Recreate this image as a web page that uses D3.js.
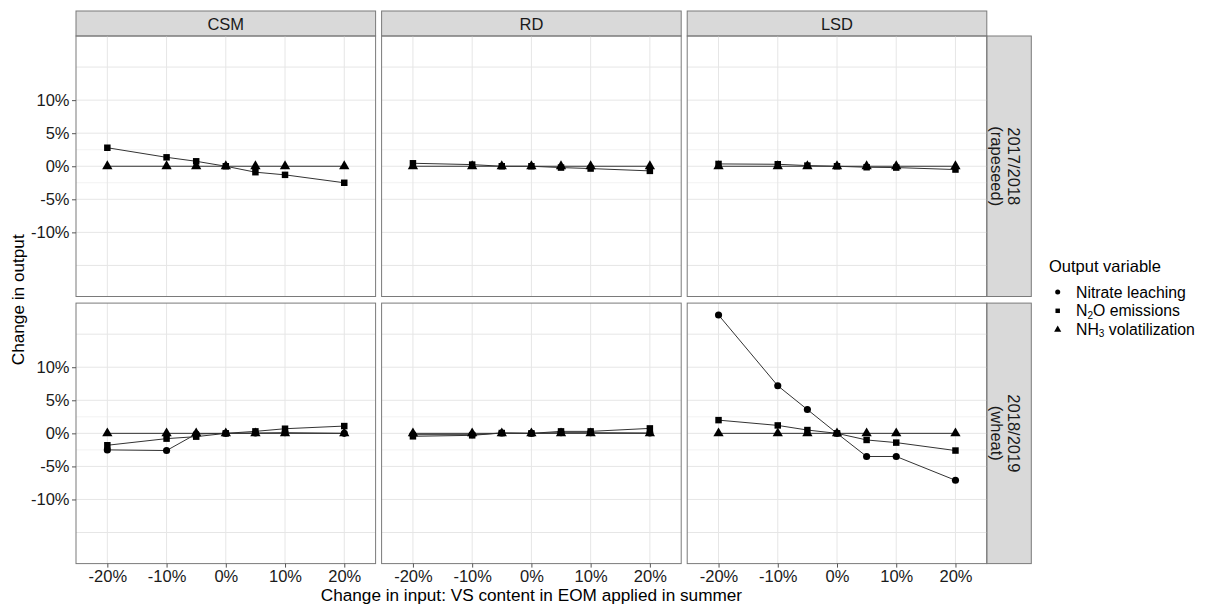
<!DOCTYPE html>
<html><head><meta charset="utf-8">
<script src="https://cdn.jsdelivr.net/npm/d3@7"></script>
<style>body{margin:0;background:#fff;} text{font-family:"Liberation Sans",Arial,sans-serif;}</style>
</head><body>
<svg id="chart" width="1215" height="607"></svg>
<script>
// ---- data ----
const colFacets = ["CSM", "RD", "LSD"];
const rowFacets = [["2017/2018", "(rapeseed)"], ["2018/2019", "(wheat)"]];
const xValues = [-20, -10, -5, 0, 5, 10, 20];          // change in input (%)
const xTicks = [-20, -10, 0, 10, 20];
const yTicks = [-10, -5, 0, 5, 10];
const yMajorGrid = [-15, -10, -5, 0, 5, 10, 15];
const yMinorGrid = [-2.5, 2.5];
const seriesNames = ["Nitrate leaching", "N2O emissions", "NH3 volatilization"];

// 2017/2018 (rapeseed) - change in output (%)
const n2o_1718_CSM = [2.8, 1.35, 0.75, 0, -0.9, -1.3, -2.5];
const nh3_1718_CSM = [0, 0, 0, 0, 0, 0, 0];
const n2o_1718_RD = [0.45, 0.25, 0, 0, -0.2, -0.35, -0.7];
const nh3_1718_RD = [0, 0, 0, 0, 0, 0, 0];
const n2o_1718_LSD = [0.35, 0.3, 0.1, 0, -0.15, -0.2, -0.5];
const nh3_1718_LSD = [0, 0, 0, 0, 0, 0, 0];
// 2018/2019 (wheat)
const nitrate_1819_CSM = [-2.5, -2.6, -0.1, 0, 0.05, 0.1, 0];
const n2o_1819_CSM = [-1.8, -0.8, -0.5, 0, 0.3, 0.7, 1.1];
const nh3_1819_CSM = [0, 0, 0, 0, 0, 0, 0];
const nitrate_1819_RD = [-0.2, -0.2, 0.05, 0, 0.1, 0.1, 0.05];
const n2o_1819_RD = [-0.45, -0.3, 0.05, 0, 0.3, 0.3, 0.75];
const nh3_1819_RD = [0, 0, 0, 0, 0, 0, 0];
const nitrate_1819_LSD = [17.9, 7.2, 3.6, 0, -3.5, -3.5, -7.1];
const n2o_1819_LSD = [2.0, 1.2, 0.5, 0, -1.0, -1.4, -2.6];
const nh3_1819_LSD = [0, 0, 0, 0, 0, 0, 0];

// panel table built from the arrays: [row][col] -> series list (null = not present)
const panelData = [
  [[null, n2o_1718_CSM, nh3_1718_CSM], [null, n2o_1718_RD, nh3_1718_RD], [null, n2o_1718_LSD, nh3_1718_LSD]],
  [[nitrate_1819_CSM, n2o_1819_CSM, nh3_1819_CSM], [nitrate_1819_RD, n2o_1819_RD, nh3_1819_RD], [nitrate_1819_LSD, n2o_1819_LSD, nh3_1819_LSD]]
];

// ---- layout ----
const svg = d3.select("#chart");
const panelW = 299.6, panelH = 260.5, gapX = 6, gapY = 6.6;
const left0 = 76, top0 = 36, stripH = 25, stripW = 44.5;
const colX = i => left0 + i * (panelW + gapX);
const rowY = j => top0 + j * (panelH + gapY);

const x = d3.scaleLinear().domain([-25.29, 25.29]).range([0, panelW]);
const y = d3.scaleLinear().domain([-19.7, 19.7]).range([panelH, 0]);

const borderCol = "#7a7a7a", gridCol = "#e6e6e6", lineCol = "#333";
const shapes = [d3.symbolCircle, d3.symbolSquare, d3.symbolTriangle];
const sizes = [40, 42, 46];
const pct = d => d + "%";
const FONT = "Liberation Sans, Arial, sans-serif";

colFacets.forEach((cname, ci) => {
  const gx = colX(ci);
  svg.append("rect").attr("x", gx).attr("y", top0 - stripH).attr("width", panelW).attr("height", stripH)
    .attr("fill", "#d9d9d9").attr("stroke", borderCol).attr("stroke-width", 1);
  svg.append("text").attr("x", gx + panelW / 2).attr("y", top0 - stripH / 2 + 6)
    .attr("text-anchor", "middle").attr("font-size", 16.5).attr("fill", "#1a1a1a").text(cname);
});

rowFacets.forEach((rlab, ri) => {
  const gy = rowY(ri);
  const sx = colX(2) + panelW;
  svg.append("rect").attr("x", sx).attr("y", gy).attr("width", stripW).attr("height", panelH)
    .attr("fill", "#d9d9d9").attr("stroke", borderCol).attr("stroke-width", 1);
  const t = svg.append("text").attr("transform", `translate(${sx + stripW / 2},${gy + panelH / 2}) rotate(90)`)
    .attr("text-anchor", "middle").attr("font-size", 16.5).attr("fill", "#1a1a1a");
  t.append("tspan").attr("x", 0).attr("y", 0.8).text(rlab[0]);
  t.append("tspan").attr("x", 0).attr("y", 18).text(rlab[1]);

  colFacets.forEach((cname, ci) => {
    const g = svg.append("g").attr("transform", `translate(${colX(ci)},${gy})`);
    g.selectAll(".ymin").data(yMinorGrid).join("line")
      .attr("x1", 0).attr("x2", panelW).attr("y1", d => y(d)).attr("y2", d => y(d))
      .attr("stroke", "#efefef").attr("stroke-width", 0.8);
    g.selectAll(".ymaj").data(yMajorGrid).join("line")
      .attr("x1", 0).attr("x2", panelW).attr("y1", d => y(d)).attr("y2", d => y(d))
      .attr("stroke", gridCol).attr("stroke-width", 1);
    g.selectAll(".xmaj").data(xTicks).join("line")
      .attr("y1", 0).attr("y2", panelH).attr("x1", d => x(d)).attr("x2", d => x(d))
      .attr("stroke", gridCol).attr("stroke-width", 1);

    const series = panelData[ri][ci];
    const line = d3.line().x((d, i) => x(xValues[i])).y(d => y(d));
    series.forEach((vals) => {
      if (!vals) return;
      g.append("path").attr("d", line(vals)).attr("fill", "none").attr("stroke", lineCol).attr("stroke-width", 1);
    });
    series.forEach((vals, si) => {
      if (!vals) return;
      g.selectAll(null).data(vals).join("path")
        .attr("transform", (d, i) => `translate(${x(xValues[i])},${y(d)})`)
        .attr("d", d3.symbol().type(shapes[si]).size(sizes[si])())
        .attr("fill", "#000");
    });

    g.append("rect").attr("x", 0).attr("y", 0).attr("width", panelW).attr("height", panelH)
      .attr("fill", "none").attr("stroke", borderCol).attr("stroke-width", 1);

    if (ci === 0) {
      const ay = d3.axisLeft(y).tickValues(yTicks).tickFormat(pct).tickSize(4).tickPadding(2.5);
      const a = g.append("g").call(ay);
      a.select(".domain").remove();
      a.selectAll("line").attr("stroke", "#555");
      a.selectAll("text").attr("font-size", 16.5).attr("fill", "#1a1a1a").attr("font-family", FONT);
    }
    if (ri === 1) {
      const ax = d3.axisBottom(x).tickValues(xTicks).tickFormat(pct).tickSize(4).tickPadding(2.5);
      const a = g.append("g").attr("transform", `translate(0,${panelH})`).call(ax);
      a.select(".domain").remove();
      a.selectAll("line").attr("stroke", "#555");
      a.selectAll("text").attr("font-size", 16.5).attr("fill", "#1a1a1a").attr("font-family", FONT);
    }
  });
});

// axis titles
const panelsRight = colX(2) + panelW;
svg.append("text").attr("x", (left0 + panelsRight) / 2).attr("y", 601)
  .attr("text-anchor", "middle").attr("font-size", 17.2).attr("fill", "#000")
  .text("Change in input: VS content in EOM applied in summer");
svg.append("text").attr("transform", `translate(24,${(top0 + rowY(1) + panelH) / 2}) rotate(-90)`)
  .attr("text-anchor", "middle").attr("font-size", 17.2).attr("fill", "#000")
  .text("Change in output");

// legend
const lg = svg.append("g").attr("transform", "translate(1049,0)");
lg.append("text").attr("x", 0).attr("y", 272).attr("font-size", 16.5).attr("fill", "#000").text("Output variable");
const legendLabels = [
  [["Nitrate leaching", false]],
  [["N", false], ["2", true], ["O emissions", false]],
  [["NH", false], ["3", true], [" volatilization", false]]
];
legendLabels.forEach((parts, i) => {
  const cy = 292 + i * 18.8;
  lg.append("path").attr("transform", `translate(8.7,${cy})`)
    .attr("d", d3.symbol().type(shapes[i]).size(i === 2 ? 22 : 20)()).attr("fill", "#000");
  const t = lg.append("text").attr("x", 27).attr("y", cy + 5.5).attr("font-size", 15.8).attr("fill", "#000");
  parts.forEach(([s, sub], k) => {
    if (sub) t.append("tspan").attr("font-size", 10).attr("dy", 2.2).text(s);
    else {
      const ts = t.append("tspan").text(s);
      if (k > 0) ts.attr("dy", -2.2);
    }
  });
});
</script>
</body></html>
